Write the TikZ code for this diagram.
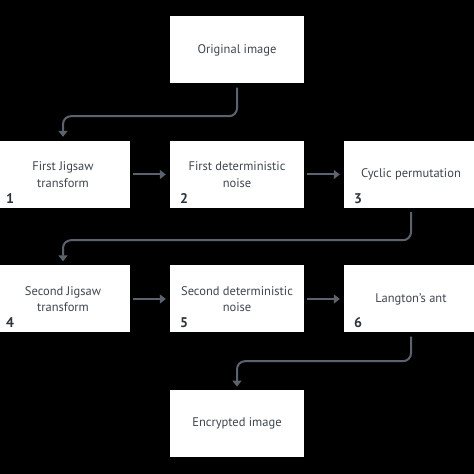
\documentclass[tikz,border=0pt]{standalone}
\usepackage{fontspec}
\setmainfont{PT Sans}
\usetikzlibrary{arrows.meta}
\definecolor{boxtext}{HTML}{3F464F}
\definecolor{numtext}{HTML}{2D333A}
\definecolor{flowgray}{HTML}{5B646E}
\tikzset{
  stage/.style={rectangle,fill=white,minimum width=134pt,minimum height=67pt,
    inner sep=0pt,align=center,text=boxtext,
    font=\fontsize{12.5}{16.5}\selectfont},
  stagenum/.style={anchor=base west,inner sep=0pt,text=numtext,
    font=\fontsize{14}{14}\selectfont\bfseries},
  flow/.style={draw=flowgray,line width=2pt,rounded corners=8pt,
    -{Triangle[length=6pt,width=9pt]}}
}
\begin{document}
\begin{tikzpicture}[x=1pt,y=1pt]
\fill[black] (0,0) rectangle (474,474);
\useasboundingbox (0,0) rectangle (474,474);
% stages
\node[stage] (orig) at (237,424) {Original image};
\node[stage] (jig1) at (63,299.5) {First Jigsaw\\transform};
\node[stage] (noise1) at (237,299.5) {First deterministic\\noise};
\node[stage] (cyc) at (411,299.5) {Cyclic permutation};
\node[stage] (jig2) at (63,175) {Second Jigsaw\\transform};
\node[stage] (noise2) at (237,175) {Second deterministic\\noise};
\node[stage] (ant) at (411,175) {Langton's ant};
\node[stage] (enc) at (237,50.7) {Encrypted image};
% step numbers
\node[stagenum] (n1) at ([xshift=10pt,yshift=5pt]jig1.south west) {1};
\node[stagenum] (n2) at ([xshift=10pt,yshift=5pt]noise1.south west) {2};
\node[stagenum] (n3) at ([xshift=10pt,yshift=5pt]cyc.south west) {3};
\node[stagenum] (n4) at ([xshift=10pt,yshift=5pt]jig2.south west) {4};
\node[stagenum] (n5) at ([xshift=10pt,yshift=5pt]noise2.south west) {5};
\node[stagenum] (n6) at ([xshift=10pt,yshift=5pt]ant.south west) {6};
% connectors
\draw[flow] ([yshift=-4pt]orig.south) -- ++(0,-28.5) -| ([yshift=4pt]jig1.north);
\draw[flow] ([xshift=3pt]jig1.east) -- ([xshift=-4pt]noise1.west);
\draw[flow] ([xshift=3pt]noise1.east) -- ([xshift=-4pt]cyc.west);
\draw[flow] ([yshift=-4pt]cyc.south) -- ++(0,-28) -| ([yshift=4pt]jig2.north);
\draw[flow] ([xshift=3pt]jig2.east) -- ([xshift=-4pt]noise2.west);
\draw[flow] ([xshift=3pt]noise2.east) -- ([xshift=-4pt]ant.west);
\draw[flow] ([yshift=-4pt]ant.south) -- ++(0,-24.5) -| ([yshift=3pt]enc.north);
\end{tikzpicture}
\end{document}
